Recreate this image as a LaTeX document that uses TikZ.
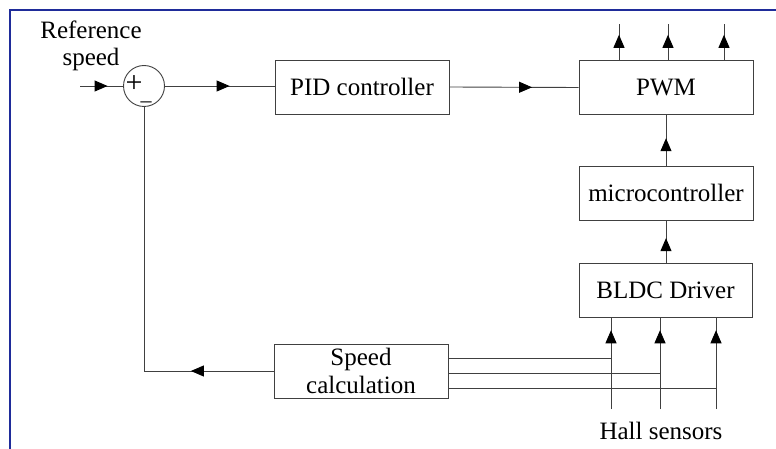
\documentclass[tikz,border=0pt]{standalone}
\usepackage{fontspec}
\setmainfont{Liberation Serif}
\newfontfamily\diagfont{Liberation Serif}
\usetikzlibrary{arrows.meta,decorations.markings}
\definecolor{frameblue}{HTML}{1F2C9A}
\tikzset{
  blk/.style={draw=black!75,line width=0.9pt,minimum width=174pt,minimum height=54pt,inner sep=0pt,align=center,font=\diagfont\fontsize{25}{28}\selectfont},
  wire/.style={draw=black!75,line width=0.9pt},
  tipat/.style={postaction={decorate,decoration={markings,mark=at position #1 with {\arrow[black]{Triangle[length=13pt,width=11pt]}}}}},
  lbl/.style={font=\diagfont\fontsize{25}{27}\selectfont,align=center,inner sep=0pt}
}
\begin{document}
\begin{tikzpicture}[x=1pt,y=-1pt]
\useasboundingbox (0,0) rectangle (776,449);
% frame
\draw[frameblue,line width=2.5pt] (776,10) -- (10,10) -- (10,449);
% blocks
\node[blk] (pid) at (362,87) {PID controller};
\node[blk] (pwm) at (666,87.5) {PWM};
\node[blk] (mcu) at (666,193) {microcontroller};
\node[blk,minimum width=173pt] (bldc) at (665.5,290) {BLDC Driver};
\node[blk] (spd) at (361,371) {Speed\\calculation};
\node[draw=black!75,line width=0.9pt,circle,minimum size=41pt,inner sep=0pt] (sum) at (144,86) {};
\node[lbl,font=\diagfont\fontsize{30}{32}\selectfont] (plus) at (134,84) {+};
\node[lbl,font=\diagfont\fontsize{22}{24}\selectfont] (minus) at (146,105) {–};
\node[lbl] (ref) at (91,46) {Reference\\speed};
\node[lbl] (hall) at (661,431) {Hall sensors};
% coordinates
\coordinate (in) at (80,86);
\coordinate (o1) at (619,24);
\coordinate (o2) at (668,24);
\coordinate (o3) at (724,24);
\coordinate (h1) at (611,409);
\coordinate (h2) at (660,409);
\coordinate (h3) at (716,409);
\coordinate (j1) at (611,358);
\coordinate (j2) at (660,373);
\coordinate (j3) at (716,388);
% connectors
\draw[wire,tipat=0.64] (in) -- (sum.west);
\draw[wire,tipat=0.59] (sum.east) -- (pid.west |- sum.east);
\draw[wire,tipat=0.64] (pid.east) -- (pwm.west);
\draw[wire,tipat=0.70] (o1 |- pwm.north) -- (o1);
\draw[wire,tipat=0.70] (o2 |- pwm.north) -- (o2);
\draw[wire,tipat=0.70] (o3 |- pwm.north) -- (o3);
\draw[wire,tipat=0.54] (mcu.north) -- (pwm.south);
\draw[wire,tipat=0.58] (bldc.north -| mcu.south) -- (mcu.south);
\draw[wire,tipat=0.86] (h1) -- (h1 |- bldc.south);
\draw[wire,tipat=0.86] (h2) -- (h2 |- bldc.south);
\draw[wire,tipat=0.86] (h3) -- (h3 |- bldc.south);
\draw[wire] (spd.east |- j1) -- (j1);
\draw[wire] (spd.east |- j2) -- (j2);
\draw[wire] (spd.east |- j3) -- (j3);
\draw[wire,tipat=0.21] (spd.west) -- (sum.south |- spd.west) -- (sum.south);
\end{tikzpicture}
\end{document}
